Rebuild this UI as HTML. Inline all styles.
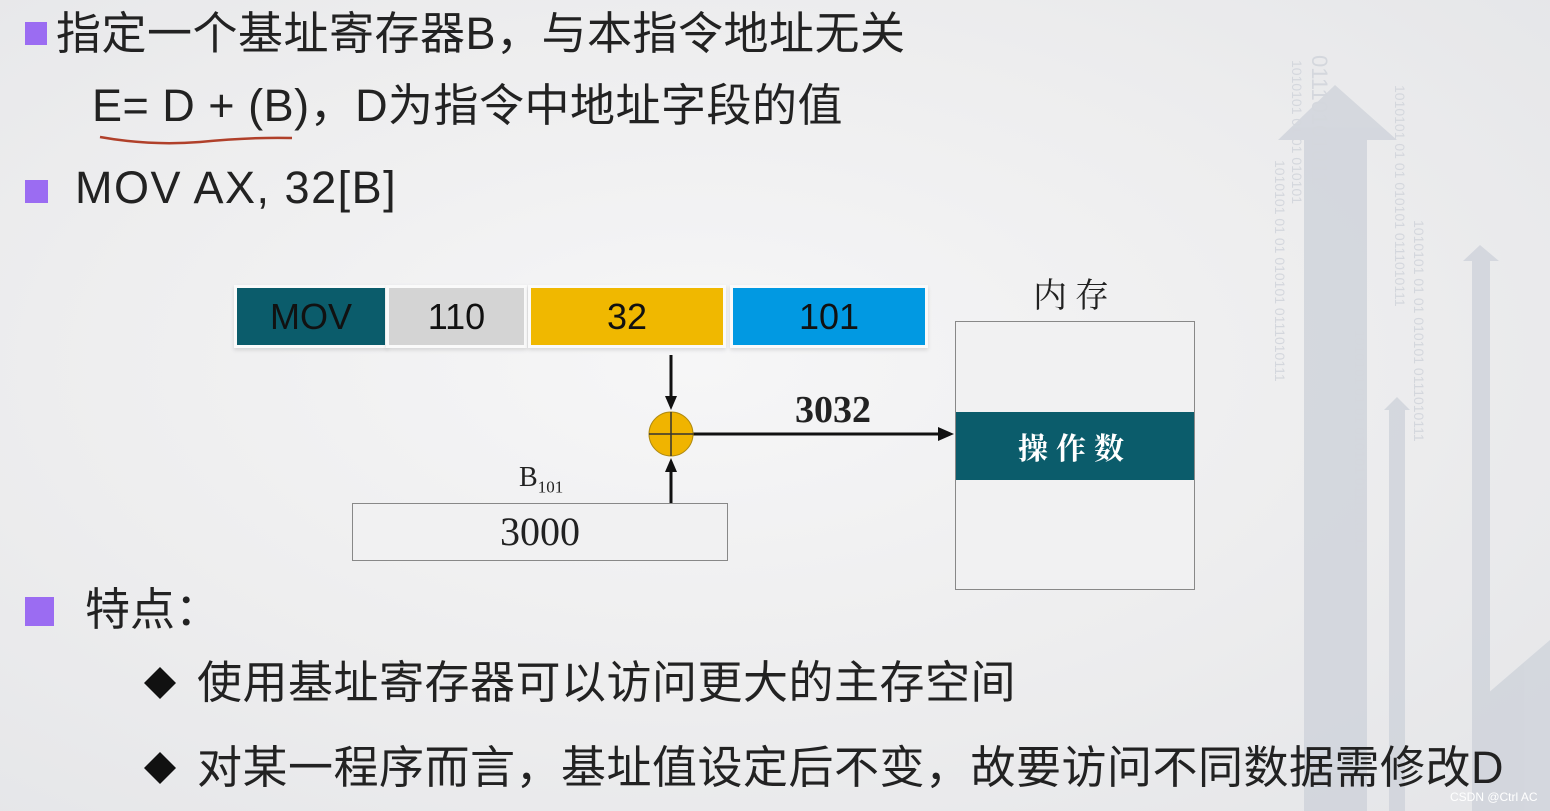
<!DOCTYPE html>
<html><head><meta charset="utf-8"><style>
body{margin:0;width:1550px;height:811px;overflow:hidden;position:relative;
background:radial-gradient(ellipse at 45% 45%,#f6f6f7 0%,#ededee 55%,#e4e5e8 100%);
font-family:"Liberation Sans","Noto Sans CJK SC",sans-serif;color:#222}
.a{position:absolute;white-space:nowrap}
.sq{position:absolute;background:#9b6cf2}
.cell{position:absolute;top:288px;height:57px;font-size:36px;line-height:57px;text-align:center;color:#111;box-shadow:0 0 0 3px #fafafa,0 2px 4px 3px rgba(0,0,0,.12)}
.t{font-size:45px;letter-spacing:0;line-height:50px}
</style></head><body>
<svg class="a" style="left:0;top:0" width="1550" height="811">
<g fill="#cfd3db" opacity=".8">
<polygon points="1335,85 1397,140 1367,140 1367,300 1304,300 1304,140 1278,140"/>
<rect x="1304" y="210" width="63" height="601"/>
<polygon points="1480,245 1499,261 1490,261 1490,811 1472,811 1472,261 1463,261"/>
<polygon points="1397,397 1410,410 1405,410 1405,811 1389,811 1389,410 1384,410"/>
<polygon points="1550,640 1550,811 1480,811 1480,700"/>
</g>
<g fill="#d4d7dd" font-size="14" font-family="Liberation Sans">
<text transform="translate(1312,55) rotate(90)" font-size="22">01110101011</text>
<text transform="translate(1292,60) rotate(90)">1010101 01 01  010101</text>
<text transform="translate(1275,160) rotate(90)">1010101 01 01  010101   0111010111</text>
<text transform="translate(1395,85) rotate(90)">1010101 01 01  010101   0111010111</text>
<text transform="translate(1414,220) rotate(90)">1010101 01 01  010101   0111010111</text>
<text transform="translate(1355,330) rotate(90)">1010101 01 01  010101   0111010111</text>
</g>
<path d="M100,137 Q150,146 200,142 Q250,137 292,138" stroke="#b0402a" stroke-width="2.5" fill="none"/>
<g stroke="#111" stroke-width="3" fill="#111">
<line x1="671" y1="355" x2="671" y2="398"/><polygon points="665,396 677,396 671,410" stroke="none"/>
<line x1="671" y1="503" x2="671" y2="470"/><polygon points="665,472 677,472 671,458" stroke="none"/>
<line x1="693" y1="434" x2="940" y2="434"/><polygon points="938,427 938,441 954,434" stroke="none"/>
</g>
<circle cx="671" cy="434" r="22" fill="#f0b400" stroke="#b08a10" stroke-width="1"/>
<line x1="671" y1="412" x2="671" y2="456" stroke="#333" stroke-width="1.5"/>
<line x1="649" y1="434" x2="693" y2="434" stroke="#333" stroke-width="1.5"/>
<polygon points="160,667 176,683 160,699 144,683" fill="#111"/>
<polygon points="160,752 176,768 160,784 144,768" fill="#111"/>
</svg>
<div class="sq" style="left:25px;top:22px;width:22px;height:23px"></div>
<div class="a t" style="left:56px;top:9px;letter-spacing:0.5px">指定一个基址寄存器B，与本指令地址无关</div>
<div class="a t" style="left:92px;top:81px;letter-spacing:0.5px">E= D + (B)，D为指令中地址字段的值</div>
<div class="sq" style="left:25px;top:180px;width:23px;height:23px"></div>
<div class="a t" style="left:75px;top:163px;letter-spacing:1.5px">MOV AX, 32[B]</div>
<div class="cell" style="left:237px;width:148px;background:#0b5c6b">MOV</div>
<div class="cell" style="left:389px;width:135px;background:#d4d4d4">110</div>
<div class="cell" style="left:531px;width:192px;background:#f0b800">32</div>
<div class="cell" style="left:733px;width:192px;background:#0199e2">101</div>
<div class="a" style="left:795px;top:388px;font:bold 38px 'Liberation Serif',serif;color:#222">3032</div>
<div class="a" style="left:519px;top:462px;font:28px 'Liberation Serif',serif">B<sub style="font-size:17px">101</sub></div>
<div class="a" style="left:352px;top:503px;width:374px;height:56px;border:1px solid #888;background:#f1f1f2;font:40px/56px 'Liberation Serif',serif;text-align:center">3000</div>
<div class="a" style="left:1033px;top:268px;font:34px 'Noto Serif CJK SC',serif;letter-spacing:8px">内存</div>
<div class="a" style="left:955px;top:321px;width:238px;height:267px;border:1px solid #888;background:#f1f1f2"></div>
<div class="a" style="left:956px;top:412px;width:238px;height:68px;background:#0b5c6b;color:#fff;font:bold 30px/68px 'Noto Serif CJK SC',serif;text-align:center;letter-spacing:8px">操作数</div>
<div class="sq" style="left:25px;top:597px;width:29px;height:29px"></div>
<div class="a t" style="left:85px;top:585px">特点：</div>
<div class="a t" style="left:197px;top:658px;letter-spacing:0.5px">使用基址寄存器可以访问更大的主存空间</div>
<div class="a t" style="left:197px;top:743px;letter-spacing:0.5px">对某一程序而言，基址值设定后不变，故要访问不同数据需修改D</div>
<div class="a" style="left:1450px;top:790px;font-size:12px;color:#fff">CSDN @Ctrl AC</div>
</body></html>
